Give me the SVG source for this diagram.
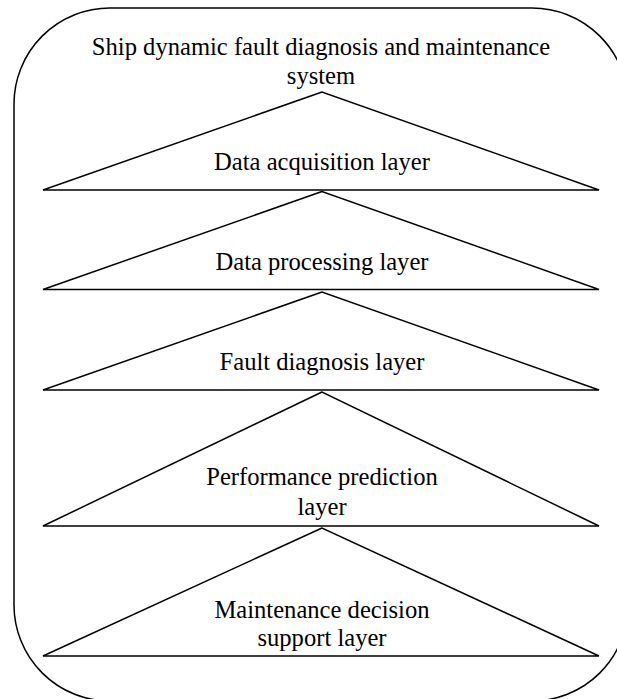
<svg xmlns="http://www.w3.org/2000/svg" width="617" height="699" viewBox="0 0 617 699">
<style>
.frame{fill:none;stroke:#000;stroke-width:1.5}
.tri{fill:#fff;stroke:#000;stroke-width:1.5;stroke-linejoin:miter}
text{font-family:"Liberation Serif","Times New Roman",serif;font-size:24.6px;fill:#000;text-anchor:middle}
</style>
<rect width="617" height="699" fill="#fff"/>
<g id="system">
<rect class="frame" x="14" y="8" width="614" height="693" rx="96" ry="96"/>
<text x="321" y="55">Ship dynamic fault diagnosis and maintenance</text>
<text x="321" y="84">system</text>
</g>
<g id="layer1">
<polygon class="tri" points="322,92 43,190 599,190"/>
<text x="322" y="170">Data acquisition layer</text>
</g>
<g id="layer2">
<polygon class="tri" points="322,191.5 43,289.5 599,289.5"/>
<text x="322" y="270">Data processing layer</text>
</g>
<g id="layer3">
<polygon class="tri" points="322,292 43,390 599,390"/>
<text x="322" y="370">Fault diagnosis layer</text>
</g>
<g id="layer4">
<polygon class="tri" points="322,392 43,526 599,526"/>
<text x="322" y="485">Performance prediction</text>
<text x="322" y="515">layer</text>
</g>
<g id="layer5">
<polygon class="tri" points="322,528 43,656 599,656"/>
<text x="322" y="618">Maintenance decision</text>
<text x="322" y="646">support layer</text>
</g>
<g id="connectors"></g>
</svg>
